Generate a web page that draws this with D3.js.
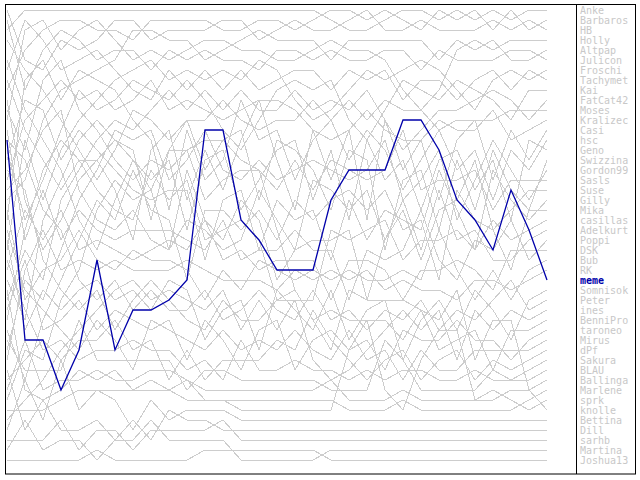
<!DOCTYPE html>
<html>
<head>
<meta charset="utf-8">
<script src="https://cdn.jsdelivr.net/npm/d3@7"></script>
<style>
  body { margin: 0; background: #fff; }
  svg { display: block; }
  .legend text { font-family: "DejaVu Sans Mono", monospace; font-size: 10px; }
</style>
</head>
<body>
<svg id="chart" width="640" height="480"></svg>
<script>
// players in final standing order (legend order)
const players = [
  "Anke", "Barbaros", "HB", "Holly", "Altpap", "Julicon", "Froschi", "Tachymet",
  "Kai", "FatCat42", "Moses", "Kralizec", "Casi", "hsc", "Geno", "Swizzina",
  "Gordon99", "Sasls", "Suse", "Gilly", "Mika", "casillas", "Adelkurt", "Poppi",
  "DSK", "Bub", "RK", "meme", "Somnisok", "Peter", "ines", "BenniPro",
  "taroneo", "Mirus", "dPf", "Sakura", "BLAU", "Ballinga", "Marlene", "sprk",
  "knolle", "Bettina", "Dill", "sarhb", "Martina", "Joshua13"
];

const highlight = "meme";

// rank of each player per round (31 rounds), same order as players
const ranks = [
  [3,1,1,1,1,1,1,1,1,1, 1,1,1,1,1,1,1,1,2,3, 3,2,1,1,2,1,2,1,2,1,1],
  [9,5,3,2,2,3,3,4,2,2, 2,2,3,3,2,2,3,2,1,1, 2,1,2,3,1,2,1,3,1,3,2],
  [1,6,7,4,5,4,2,2,4,3, 3,3,2,2,4,3,2,3,3,2, 1,3,3,2,3,3,3,2,3,2,3],
  [12,3,2,5,3,2,4,6,5,6, 5,4,4,5,5,6,6,5,4,5, 5,6,9,11,9,5,4,5,4,4,4],
  [20,18,12,9,8,7,6,3,3,4, 4,6,5,4,3,4,4,4,6,4, 4,4,4,4,6,4,5,4,6,6,5],
  [2,9,5,3,4,6,5,5,7,5, 6,5,6,6,7,5,5,6,5,6, 6,5,5,7,5,6,6,6,5,5,6],
  [25,14,20,15,12,10,8,7,6,8, 7,8,7,8,6,7,10,12,11,9, 7,8,7,6,7,9,11,8,7,8,7],
  [7,2,4,7,6,5,7,9,10,7, 9,7,9,7,9,8,7,7,9,7, 8,7,10,8,8,10,8,7,9,7,8],
  [15,22,18,13,9,11,10,8,9,10, 8,10,13,15,12,9,8,9,8,12, 14,11,8,9,10,8,9,10,12,9,9],
  [30,25,28,20,17,14,12,13,11,9, 11,9,11,9,11,11,9,11,10,11, 9,12,15,13,11,11,10,9,10,12,10],
  [4,7,9,12,15,18,15,11,12,14, 12,12,10,12,13,12,12,10,12,10, 12,10,11,11,13,12,12,12,11,11,11],
  [18,12,10,8,10,9,11,10,8,11, 10,11,12,11,10,10,11,13,14,13, 11,13,14,14,12,13,13,11,14,13,12],
  [10,20,25,22,18,16,19,24,15,13, 20,15,19,14,10,16,21,13,18,13, 22,12,17,14,20,14,12,18,13,16,13],
  [22,8,6,10,7,8,9,12,14,21, 13,18,16,10,14,13,18,14,12,16, 13,15,19,16,13,17,15,20,15,17,14],
  [6,11,14,17,22,25,20,16,18,16, 23,16,15,21,18,15,14,20,15,22, 14,18,16,21,16,15,19,16,22,14,15],
  [28,32,22,18,14,12,14,15,22,15, 12,17,14,13,20,14,15,17,21,15, 16,25,18,17,23,16,21,15,19,21,16],
  [35,28,30,25,20,17,13,14,13,18, 16,13,17,18,16,18,17,16,17,18, 17,14,20,18,15,22,18,14,17,20,17],
  [11,15,8,6,11,13,16,18,16,17, 15,20,18,17,17,19,16,19,16,17, 18,17,13,19,18,18,17,21,18,18,18],
  [40,35,36,30,27,21,18,20,19,25, 17,22,24,20,22,28,25,18,19,21, 19,24,21,26,21,20,16,23,21,19,19],
  [16,10,11,16,13,15,17,19,20,19, 19,26,20,19,25,20,22,21,26,20, 24,21,22,23,17,21,25,17,20,22,20],
  [33,38,32,28,24,20,22,17,21,22, 28,21,21,23,21,24,20,22,20,19, 21,19,23,22,28,19,22,23,27,21,21],
  [8,13,16,19,16,19,21,22,17,20, 18,24,23,22,24,30,30,30,23,24, 23,22,26,24,24,23,25,22,24,23,22],
  [19,17,13,11,19,22,23,21,24,25, 22,23,25,24,19,22,25,24,24,23, 30,24,20,25,19,24,23,26,26,24,23],
  [13,24,19,24,21,23,24,23,23,23, 24,25,22,26,25,25,23,25,25,30, 25,26,25,21,26,28,24,25,22,26,24],
  [27,21,24,21,25,24,25,26,25,24, 25,22,26,25,27,26,26,26,30,26, 26,27,30,27,27,26,27,29,25,25,25],
  [21,30,27,26,23,26,27,25,26,26, 27,30,27,29,26,27,28,27,28,27, 28,28,27,28,23,27,30,27,30,27,26],
  [36,27,23,27,26,27,26,27,27,27, 26,27,28,28,28,29,27,28,27,28, 27,29,28,29,29,30,28,28,29,28,27],
  [14,34,34,39,35,26,35,31,31,30, 28,13,13,22,24,27,27,27,20,17, 17,17,12,12,15,20,22,25,19,23,28],
  [24,33,29,31,29,28,30,29,31,28, 29,34,31,30,35,29,31,33,29,34, 31,30,36,32,30,33,29,31,34,30,29],
  [14,16,21,23,28,30,28,31,29,31, 31,29,32,31,29,31,32,29,32,31, 33,31,32,30,33,31,32,30,28,31,30],
  [42,40,38,35,33,31,29,28,30,29, 30,31,29,33,30,33,30,36,38,37, 35,33,31,33,31,36,31,33,31,32,31],
  [17,19,26,29,31,29,33,30,28,30, 32,33,30,32,32,30,29,32,31,32, 32,32,34,31,35,34,33,37,33,33,32],
  [31,26,33,32,30,33,31,32,33,32, 36,32,34,37,33,32,37,34,33,35, 34,37,33,34,34,32,34,34,36,34,33],
  [23,29,31,33,35,32,34,37,32,33, 34,35,33,35,34,35,33,35,36,33, 36,35,38,35,37,37,35,35,35,35,34],
  [38,36,34,36,34,34,32,35,34,38, 35,38,36,36,36,34,35,31,34,36, 38,36,35,38,36,35,38,36,37,36,35],
  [26,31,35,34,36,35,35,34,35,35, 37,36,38,34,37,37,36,37,37,38, 37,38,37,37,38,38,37,38,38,37,36],
  [34,37,37,37,32,36,36,36,36,36, 39,37,37,38,38,38,38,38,39,39, 39,34,36,39,39,39,39,37,38,38,37],
  [39,34,39,38,38,37,38,38,37,37, 38,39,39,39,39,39,39,39,38,40, 40,40,39,40,40,40,40,40,39,39,38],
  [29,39,40,39,37,38,37,39,38,39, 38,40,40,40,40,40,40,40,40,41, 41,41,40,41,41,41,41,41,41,40,39],
  [41,41,41,40,39,39,39,39,39,39, 40,40,40,41,41,41,41,41,41,35, 32,39,41,36,33,33,40,39,40,41,40],
  [32,23,17,14,16,16,14,16,19,15, 15,14,14,16,17,23,29,32,35,29, 30,30,30,31,32,29,36,32,32,39,41],
  [43,38,42,36,41,39,40,43,40,42, 41,41,41,42,42,42,42,42,42,42, 42,42,42,42,42,42,42,42,42,42,42],
  [37,43,40,43,43,42,44,42,44,41, 42,42,43,43,43,43,43,43,43,43, 43,43,43,43,43,43,43,43,43,43,43],
  [44,44,44,42,45,43,43,45,43,43, 43,43,42,44,44,44,44,44,44,44, 44,44,44,44,44,44,44,44,44,44,44],
  [45,42,45,44,44,46,44,44,42,44, 44,44,44,46,46,46,46,46,45,45, 45,45,45,45,45,45,45,45,45,45,45],
  [46,46,46,46,46,45,46,46,46,46, 46,45,45,45,45,45,45,45,46,46, 46,46,46,46,46,46,46,46,46,46,46]
];

const greyColor = "#cdcdcd";
const blueColor = "#0000aa";

const svg = d3.select("#chart");

const x = d3.scaleLinear().domain([0, ranks[0].length - 1]).range([7, 547]);
const y = d3.scaleLinear().domain([1, players.length]).range([10, 460]);

const line = d3.line()
  .x((d, i) => x(i))
  .y((d) => y(d));

const series = players.map((name, i) => ({ name, values: ranks[i] }));
// draw highlighted player last so it sits on top
const ordered = series.filter((s) => s.name !== highlight)
  .concat(series.filter((s) => s.name === highlight));

svg.append("g")
  .attr("class", "lines")
  .selectAll("path")
  .data(ordered)
  .join("path")
  .attr("d", (d) => line(d.values))
  .attr("fill", "none")
  .attr("stroke", (d) => d.name === highlight ? blueColor : greyColor)
  .attr("stroke-width", (d) => d.name === highlight ? 1.3 : 1)
  .attr("shape-rendering", (d) => d.name === highlight ? "auto" : "crispEdges");

// legend
svg.append("g")
  .attr("class", "legend")
  .selectAll("text")
  .data(players)
  .join("text")
  .attr("x", 580)
  .attr("y", (d, i) => y(i + 1) + 4)
  .attr("fill", (d) => d === highlight ? blueColor : "#c8c8c8")
  .attr("font-weight", (d) => d === highlight ? "bold" : "normal")
  .text((d) => d);

// frame + divider
svg.append("rect")
  .attr("x", 5.5).attr("y", 4.5)
  .attr("width", 630).attr("height", 469.5)
  .attr("fill", "none")
  .attr("stroke", "#000");

svg.append("line")
  .attr("x1", 576.5).attr("x2", 576.5)
  .attr("y1", 4.5).attr("y2", 474)
  .attr("stroke", "#000");
</script>
</body>
</html>
